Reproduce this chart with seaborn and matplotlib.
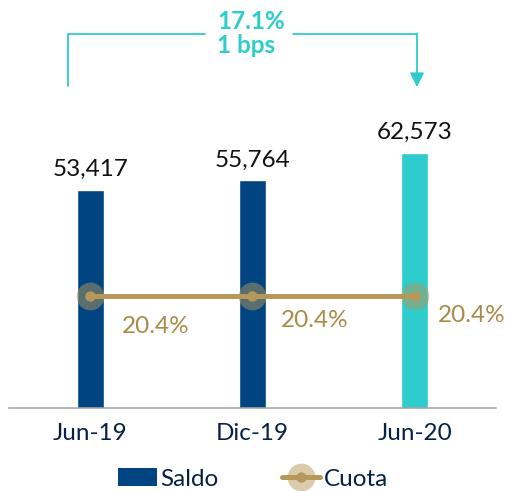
import numpy as np
import pandas as pd
import matplotlib
matplotlib.use("Agg")
import matplotlib.pyplot as plt
from matplotlib.lines import Line2D
from matplotlib.patches import Patch
import seaborn as sns

# ---- data ----
categories = ["Jun-19", "Dic-19", "Jun-20"]
saldo = [53417, 55764, 62573]
cuota = [20.4, 20.4, 20.4]
cuota_labels = ["20.4%", "20.4%", "20.4%"]
growth_label = "17.1%"
bps_label = "1 bps"
legend_labels = ["Saldo", "Cuota"]

# ---- styles ----
DARK_BLUE = "#004481"
CYAN = "#2DCCCD"
GOLD = "#B5985A"
GOLD_TEXT = "#A88B45"
NAVY_TEXT = "#072146"
bar_colors = [DARK_BLUE, DARK_BLUE, CYAN]
label_offsets = [(47, -22), (45, -18), (41, -14)]
FS = 17.5
FW = "normal"

sns.set_theme(style="white")
plt.rcParams["font.family"] = ["Lato", "DejaVu Sans"]

W, H = 506, 491
fig = plt.figure(figsize=(W / 100, H / 100), dpi=100)
ax = fig.add_axes([9 / W, 83 / H, 487 / W, 408 / H])

df = pd.DataFrame({"cat": categories, "saldo": saldo})
sns.barplot(data=df, x="cat", y="saldo", hue="cat", palette=bar_colors,
            legend=False, width=0.167, saturation=1, ax=ax)
ax.set_xlim(-0.5, 2.5)
ax.set_ylim(0, 100000)
ax.set_xlabel("")
ax.set_ylabel("")
ax.set_yticks([])
for s in ["top", "left", "right"]:
    ax.spines[s].set_visible(False)
ax.spines["bottom"].set_color("#A0A0A0")
ax.spines["bottom"].set_linewidth(1.1)
ax.tick_params(axis="x", length=0, pad=11, labelsize=FS, labelcolor=NAVY_TEXT)
for t in ax.get_xticklabels():
    t.set_fontweight(FW)

for i, v in enumerate(saldo):
    ax.annotate(f"{v:,}", xy=(i, v), xytext=(0, 10), textcoords="offset points",
                ha="center", va="baseline", fontsize=FS, fontweight=FW,
                color="#121212")

# ---- line on secondary axis ----
ax2 = ax.twinx()
xs = np.arange(len(categories))
ax2.scatter(xs, cuota, s=400, color=GOLD, alpha=0.5, linewidths=0, zorder=2)
sns.lineplot(x=xs, y=cuota, ax=ax2, color=GOLD, linewidth=3.6, marker="o",
             markersize=7.5, markeredgewidth=0, zorder=3)
ax2.set_ylim(0, 74.3)
ax2.set_xlim(-0.5, 2.5)
ax2.axis("off")
for i, (v, lab) in enumerate(zip(cuota, cuota_labels)):
    ax2.annotate(lab, xy=(i, v), xytext=label_offsets[i], textcoords="offset points",
                 ha="center", va="center", fontsize=FS, fontweight=FW,
                 color=GOLD_TEXT)

# ---- growth bracket ----
def fp(x, y):
    return (x, H - y)

lw = 1.3
fig.add_artist(Line2D([68 / W, 68 / W, 205 / W], [1 - 86 / H, 1 - 34 / H, 1 - 34 / H],
                      transform=fig.transFigure, color=CYAN, lw=lw))
fig.add_artist(Line2D([293 / W, 417 / W], [1 - 34 / H, 1 - 34 / H],
                      transform=fig.transFigure, color=CYAN, lw=lw))
ax.annotate("", xy=fp(417, 87), xytext=fp(417, 33.4), xycoords="figure pixels",
            textcoords="figure pixels",
            arrowprops=dict(arrowstyle="-|>,head_length=0.7,head_width=0.35",
                            color=CYAN, lw=lw, shrinkA=0, shrinkB=0),
            annotation_clip=False)
fig.text(217 / W, 1 - 29 / H, growth_label, ha="left", va="baseline",
         fontsize=17.5, fontweight="bold", color=CYAN)
fig.text(217 / W, 1 - 53 / H, bps_label, ha="left", va="baseline",
         fontsize=17.5, fontweight="bold", color=CYAN)

# ---- legend ----
h_saldo = Patch(facecolor=DARK_BLUE, edgecolor="none")
h_halo = Line2D([], [], linestyle="none", marker="o", markersize=20,
                color=GOLD, alpha=0.5, markeredgewidth=0)
h_line = Line2D([], [], color=GOLD, linewidth=3.6, marker="o", markersize=7.5,
                markeredgewidth=0)
leg = fig.legend([h_saldo, (h_halo, h_line)], legend_labels, loc="center",
                 bbox_to_anchor=(0.5, 12 / H), ncol=2, frameon=False, fontsize=FS,
                 handlelength=1.6, handletextpad=0.15, columnspacing=2.6,
                 labelcolor=NAVY_TEXT)
for t in leg.get_texts():
    t.set_fontweight(FW)

fig.savefig("out.png", dpi=100)
